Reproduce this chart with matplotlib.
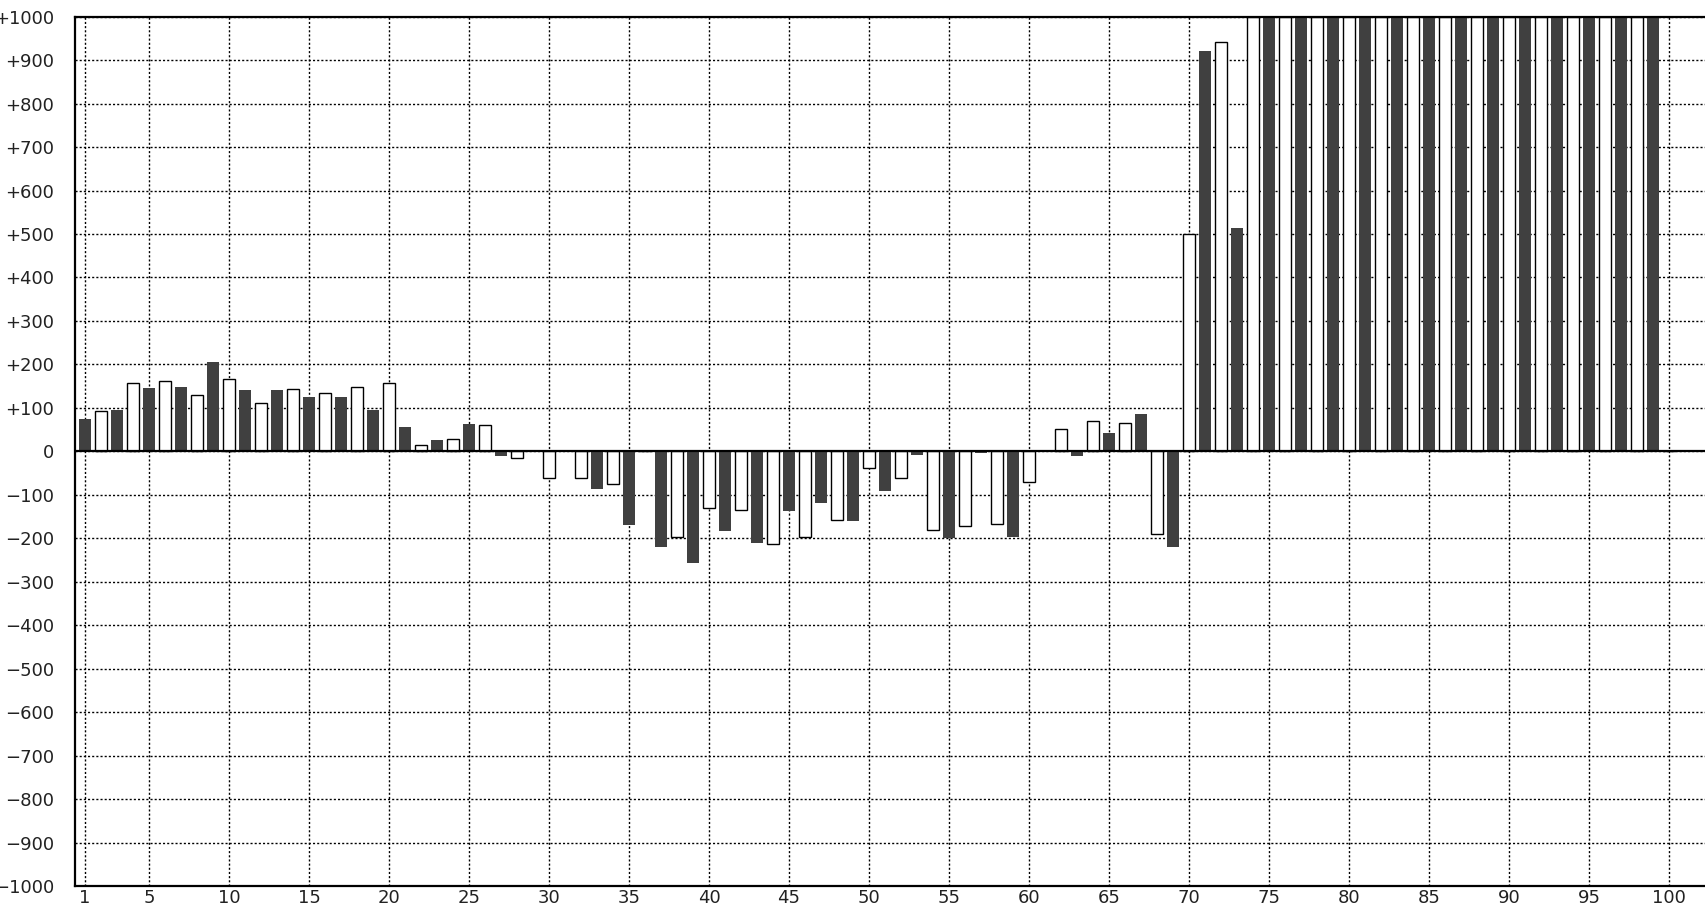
import numpy as np
import matplotlib
matplotlib.use('Agg')
import matplotlib.pyplot as plt
from matplotlib.ticker import FixedLocator, FuncFormatter

# bar index 1..100, odd bars dark, even bars white
positions = list(range(1, 101))
values = [75, 93, 94, 158, 145, 162, 149, 130, 205, 167,
          140, 112, 140, 144, 126, 135, 126, 148, 94, 158,
          57, 14, 25, 28, 62, 60, -11, -15, 0, -61,
          -2, -61, -86, -75, -169, 0, -219, -198, -257, -131,
          -183, -135, -210, -214, -137, -196, -118, -158, -160, -38,
          -91, -61, -8, -181, -200, -171, -3, -168, -196, -70,
          0, 51, -11, 69, 43, 65, 85, -191, -219, 500,
          921, 942, 514, 1000, 1000, 1000, 1000, 1000, 1000, 1000,
          1000, 1000, 1000, 1000, 1000, 1000, 1000, 1000, 1000, 1000,
          1000, 1000, 1000, 1000, 1000, 1000, 1000, 1000, 1000, 0]
xticks = [1] + list(range(5, 101, 5))
yticks = list(range(-1000, 1001, 100))

plt.rcParams['font.family'] = ['DejaVu Sans']

fig = plt.figure(figsize=(17.06, 9.08), dpi=100)
ax = fig.add_axes([75/1706, 1-886/908, 1-75/1706, (886-16.7)/908])

pos = np.array(positions)
val = np.array(values)
odd = pos % 2 == 1
ax.bar(pos[odd], val[odd], width=0.74, color='#404040', linewidth=0, zorder=2)
ax.bar(pos[~odd], val[~odd], width=0.74, color='white', edgecolor='black',
       linewidth=1.0, zorder=2)
ax.axhline(0, color='black', linewidth=1.6, zorder=3)

ax.set_xlim(0.375, 1 + (1706-85)/16)
ax.set_ylim(-1000, 1000)
ax.xaxis.set_major_locator(FixedLocator(xticks))
ax.yaxis.set_major_locator(FixedLocator(yticks))
ax.yaxis.set_major_formatter(FuncFormatter(
    lambda v, p: '0' if v == 0 else ('+%d' % v if v > 0 else '\u2212%d' % -v)))
ax.tick_params(length=0, labelsize=13, colors='#222222')
ax.tick_params(axis='y', pad=15)
ax.tick_params(axis='x', pad=2)

ax.grid(True, color='black', linestyle=(0, (1.5, 1.5)), linewidth=1.0, zorder=0)
ax.set_axisbelow(True)
for s in ['left', 'top', 'bottom']:
    ax.spines[s].set_linewidth(1.6)
    ax.spines[s].set_zorder(4)
ax.spines['right'].set_visible(False)

fig.savefig('out.png', dpi=100)
